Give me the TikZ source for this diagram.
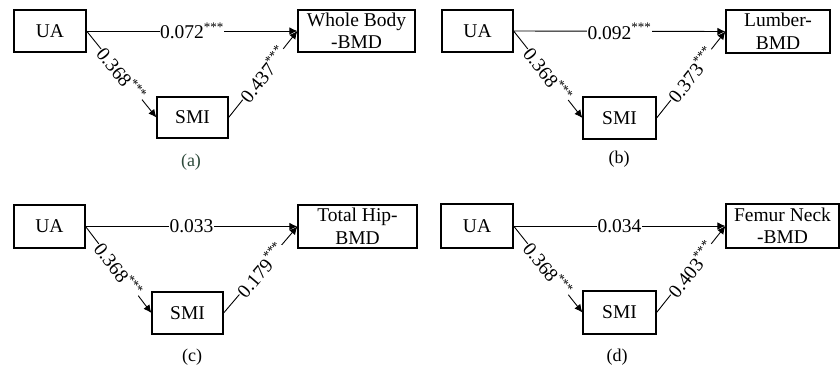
\documentclass[tikz,border=0pt]{standalone}
\usepackage{fontspec}
\setmainfont{Liberation Serif}
\usetikzlibrary{arrows.meta}
\definecolor{capgreen}{RGB}{45,74,58}
\newcommand{\sig}{\textsuperscript{\fontsize{13}{13}\selectfont ***}}
\begin{document}
\begin{tikzpicture}[x=1pt,y=-1pt,
  every node/.style={font=\fontsize{19.5}{22.5}\selectfont},
  box/.style={draw,line width=1.2pt,inner sep=0pt,align=center,minimum height=42pt},
  conn/.style={line width=0.9pt,-{Latex[length=8pt,width=7.5pt]}},
  lab/.style={fill=white,inner sep=0.5pt},
  captxt/.style={font=\fontsize{18}{18}\selectfont}]
\useasboundingbox (0,0) rectangle (840,369);
% (a)
\node[box,minimum width=72pt] (ua1) at (50,31) {UA};
\node[box,minimum width=117pt] (t1) at (356.5,31) {Whole Body\\-BMD};
\node[box,minimum width=71pt,minimum height=41pt] (s1) at (192.5,117.5) {SMI};
\node[captxt,text=capgreen] (c1) at (191,162) {(a)};
\draw[conn] (ua1.east) -- node[lab] {0.072\sig} (t1.west);
\draw[conn] (ua1.east) -- node[lab,sloped] {0.368\sig} (s1.west);
\draw[conn] (s1.east) -- node[lab,sloped] {0.437\sig} (t1.west);
% (b)
\node[box,minimum width=71pt] (ua2) at (477.5,31) {UA};
\node[box,minimum width=104pt,minimum height=43pt] (t2) at (778,31.5) {Lumber-\\BMD};
\node[box,minimum width=73pt] (s2) at (619.5,118) {SMI};
\node[captxt] (c2) at (619,159) {(b)};
\draw[conn] (ua2.east) -- node[lab] {0.092\sig} (t2.west);
\draw[conn] (ua2.east) -- node[lab,sloped] {0.368\sig} (s2.west);
\draw[conn] (s2.east) -- node[lab,sloped] {0.373\sig} (t2.west);
% (c)
\node[box,minimum width=71pt,minimum height=43pt] (ua3) at (49.5,226.5) {UA};
\node[box,minimum width=119pt,minimum height=43pt] (t3) at (357.5,226.5) {Total Hip-\\BMD};
\node[box,minimum width=71pt] (s3) at (187.5,313) {SMI};
\node[captxt] (c3) at (192,357) {(c)};
\draw[conn] (ua3.east) -- node[lab] {0.033} (t3.west);
\draw[conn] (ua3.east) -- node[lab,sloped] {0.368\sig} (s3.west);
\draw[conn] (s3.east) -- node[lab,sloped] {0.179\sig} (t3.west);
% (d)
\node[box,minimum width=72pt,minimum height=44pt] (ua4) at (477,226) {UA};
\node[box,minimum width=113pt,minimum height=44pt] (t4) at (782.5,226) {Femur Neck\\-BMD};
\node[box,minimum width=73pt,minimum height=43pt] (s4) at (619.5,312.5) {SMI};
\node[captxt] (c4) at (617,357) {(d)};
\draw[conn] (ua4.east) -- node[lab] {0.034} (t4.west);
\draw[conn] (ua4.east) -- node[lab,sloped] {0.368\sig} (s4.west);
\draw[conn] (s4.east) -- node[lab,sloped] {0.403\sig} (t4.west);
\end{tikzpicture}
\end{document}
